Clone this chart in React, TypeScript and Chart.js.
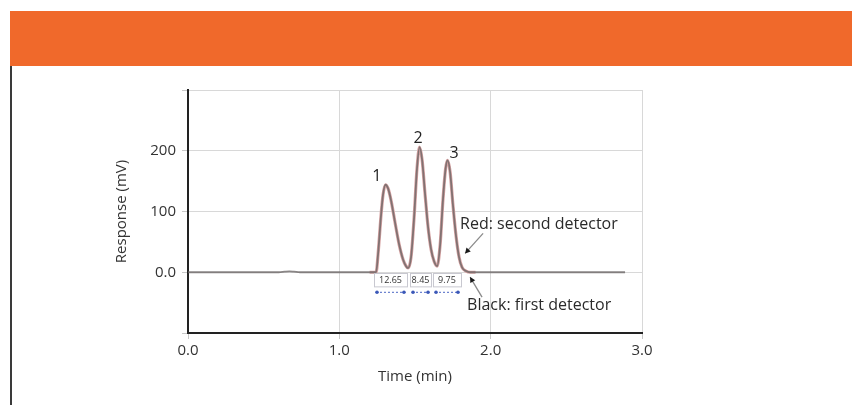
import React, { useEffect, useRef } from 'react';
import { Chart, registerables } from 'chart.js';

Chart.register(...registerables);

// Axis ticks
const xTickValues = [0, 1, 2, 3];
const xTickLabels = ['0.0', '1.0', '2.0', '3.0'];
const yTickValues = [0, 100, 200];
const yTickLabels = ['0.0', '100', '200'];

// Black: first detector (time in min, response in mV)
const firstDetectorTime = [
  0, 0.6, 0.64, 0.67, 0.7, 0.74, 1.2, 1.243, 1.256, 1.276, 1.289, 1.305, 1.322, 1.342, 1.368, 1.395,
  1.421, 1.441, 1.454, 1.474, 1.494, 1.513, 1.53, 1.547, 1.566, 1.586, 1.606, 1.626, 1.646, 1.666,
  1.685, 1.702, 1.715, 1.732, 1.751, 1.771, 1.791, 1.811, 1.837, 1.864, 2.4, 2.888,
];
const firstDetectorResponse = [
  0, 0, 1, 1.5, 1, 0, 0, 0, 30, 95, 128, 144, 138, 118, 82, 46,
  21, 10, 7, 25, 90, 170, 206, 185, 130, 75, 38, 18, 10, 45,
  120, 170, 184, 165, 110, 60, 25, 8, 2, 0, 0, 0,
];

// Red: second detector
const secondDetectorTime = [
  1.2, 1.243, 1.256, 1.276, 1.289, 1.305, 1.322, 1.342, 1.368, 1.395, 1.421, 1.441, 1.454, 1.474,
  1.494, 1.513, 1.53, 1.547, 1.566, 1.586, 1.606, 1.626, 1.646, 1.666, 1.685, 1.702, 1.715, 1.732,
  1.751, 1.771, 1.791, 1.811, 1.837, 1.864, 1.9,
];
const secondDetectorResponse = [
  0, 0, 30, 95, 128, 144, 138, 118, 82, 46, 21, 10, 7, 25,
  90, 170, 206, 185, 130, 75, 38, 18, 10, 45, 120, 170, 184, 165,
  110, 60, 25, 8, 2, 0, 0,
];

// Peak numbers
const peakLabels = ['1', '2', '3'];
const peakLabelTime = [1.247, 1.52, 1.758];
const peakLabelResponse = [158, 220, 195];

// Resolution boxes between peaks
const resolutionLabels = ['12.65', '8.45', '9.75'];
const resolutionStart = [1.229, 1.467, 1.619];
const resolutionEnd = [1.447, 1.606, 1.804];

// Detector notes
const noteTexts = ['Red: second detector', 'Black: first detector'];
const noteTextTime = [1.798, 1.844];
const noteTextResponse = [79, -55];
const noteArrowFromTime = [1.95, 1.943];
const noteArrowFromResponse = [64, -41];
const noteArrowToTime = [1.831, 1.864];
const noteArrowToResponse = [31, -8];

const FONT = '"Open Sans", "DejaVu Sans", sans-serif';

const notesPlugin = {
  id: 'chromNotes',
  afterDatasetsDraw(chart: any) {
    const { ctx } = chart;
    const x = chart.scales.x;
    const y = chart.scales.y;
    ctx.save();

    // peak numbers
    ctx.font = `16px ${FONT}`;
    ctx.fillStyle = '#222';
    ctx.textAlign = 'center';
    ctx.textBaseline = 'middle';
    peakLabels.forEach((l, i) => {
      ctx.fillText(l, x.getPixelForValue(peakLabelTime[i]), y.getPixelForValue(peakLabelResponse[i]));
    });

    // resolution boxes
    resolutionLabels.forEach((l, i) => {
      const x0 = x.getPixelForValue(resolutionStart[i]);
      const x1 = x.getPixelForValue(resolutionEnd[i]);
      const yt = y.getPixelForValue(-2);
      const yb = y.getPixelForValue(-24);
      ctx.fillStyle = '#ffffff';
      ctx.fillRect(x0, yt, x1 - x0, yb - yt);
      ctx.strokeStyle = '#c8c8d0';
      ctx.lineWidth = 1;
      ctx.strokeRect(Math.round(x0) + 0.5, Math.round(yt) + 0.5, x1 - x0, yb - yt);
      ctx.fillStyle = '#333';
      ctx.font = `9px ${FONT}`;
      ctx.fillText(l, (x0 + x1) / 2, (yt + yb) / 2 + 0.5);
      // blue dotted span
      const ym = y.getPixelForValue(-33);
      ctx.strokeStyle = '#4a66c4';
      ctx.lineWidth = 1;
      ctx.setLineDash([2, 2]);
      ctx.beginPath();
      ctx.moveTo(x0 + 2, ym);
      ctx.lineTo(x1 - 2, ym);
      ctx.stroke();
      ctx.setLineDash([]);
      ctx.fillStyle = '#3b58b8';
      [x0 + 3, x1 - 3].forEach((px) => {
        ctx.beginPath();
        ctx.arc(px, ym, 1.8, 0, Math.PI * 2);
        ctx.fill();
      });
    });

    // notes + arrows
    noteTexts.forEach((t, i) => {
      ctx.font = `16px ${FONT}`;
      ctx.fillStyle = '#2a2a2a';
      ctx.textAlign = 'left';
      ctx.textBaseline = 'middle';
      ctx.fillText(t, x.getPixelForValue(noteTextTime[i]), y.getPixelForValue(noteTextResponse[i]));
      const fx = x.getPixelForValue(noteArrowFromTime[i]);
      const fy = y.getPixelForValue(noteArrowFromResponse[i]);
      const tx = x.getPixelForValue(noteArrowToTime[i]);
      const ty = y.getPixelForValue(noteArrowToResponse[i]);
      ctx.strokeStyle = '#8a8a8a';
      ctx.lineWidth = 1.3;
      ctx.beginPath();
      ctx.moveTo(fx, fy);
      ctx.lineTo(tx, ty);
      ctx.stroke();
      const ang = Math.atan2(ty - fy, tx - fx);
      const len = 6;
      ctx.fillStyle = '#1a1a1a';
      ctx.beginPath();
      ctx.moveTo(tx, ty);
      ctx.lineTo(tx - len * Math.cos(ang - 0.5), ty - len * Math.sin(ang - 0.5));
      ctx.lineTo(tx - len * Math.cos(ang + 0.5), ty - len * Math.sin(ang + 0.5));
      ctx.closePath();
      ctx.fill();
    });

    ctx.restore();
  },
};

export default function App() {
  const canvasRef = useRef<HTMLCanvasElement | null>(null);

  useEffect(() => {
    if (!canvasRef.current) return;
    const chart = new Chart(canvasRef.current, {
      type: 'line',
      data: {
        datasets: [
          {
            label: 'Black: first detector',
            data: firstDetectorTime.map((t, i) => ({ x: t, y: firstDetectorResponse[i] })),
            borderColor: 'rgba(105,100,100,0.78)',
            borderWidth: 1.8,
            pointRadius: 0,
            cubicInterpolationMode: 'monotone',
            fill: false,
          },
          {
            label: 'Red: second detector',
            data: secondDetectorTime.map((t, i) => ({ x: t, y: secondDetectorResponse[i] })),
            borderColor: '#d6a3a3',
            borderWidth: 3.2,
            pointRadius: 0,
            cubicInterpolationMode: 'monotone',
            fill: false,
          },
        ],
      },
      options: {
        animation: false,
        responsive: false,
        layout: { padding: { left: 108, right: 210, top: 90, bottom: 0 } },
        plugins: { legend: { display: false }, tooltip: { enabled: false } },
        scales: {
          x: {
            type: 'linear',
            min: 0,
            max: 3,
            afterBuildTicks: (s: any) => {
              s.ticks = xTickValues.map((v) => ({ value: v }));
            },
            ticks: {
              callback: (v: any) => {
                const i = xTickValues.indexOf(Number(v));
                return i >= 0 ? xTickLabels[i] : '';
              },
              font: { family: FONT, size: 15 },
              color: '#333',
              padding: 3,
              maxRotation: 0,
              autoSkip: false,
            },
            grid: { color: '#d8d8d8', lineWidth: 1, tickLength: 6, tickColor: '#c8c8c8' },
            border: { color: '#222', width: 2 },
            title: {
              display: true,
              text: 'Time (min)',
              font: { family: FONT, size: 15 },
              color: '#333',
              padding: { top: 4, bottom: 19 },
            },
            afterFit: (s: any) => {
              s.height = 72;
              s.paddingLeft = 0;
              s.paddingRight = 0;
            },
          },
          y: {
            min: -100,
            max: 300,
            ticks: {
              stepSize: 100,
              callback: (v: any) => {
                const i = yTickValues.indexOf(Number(v));
                return i >= 0 ? yTickLabels[i] : '';
              },
              font: { family: FONT, size: 15 },
              color: '#333',
              padding: 6,
            },
            grid: { color: '#d8d8d8', lineWidth: 1, tickLength: 6, tickColor: '#c8c8c8' },
            border: { color: '#222', width: 2 },
            title: {
              display: true,
              text: 'Response (mV)',
              font: { family: FONT, size: 15 },
              color: '#333',
              padding: { top: 5, bottom: 0 },
            },
            afterFit: (s: any) => {
              s.width = 80;
              s.paddingTop = 0;
              s.paddingBottom = 0;
            },
          },
        },
      },
      plugins: [notesPlugin],
    } as any);
    return () => chart.destroy();
  }, []);

  return (
    <div style={{ position: 'absolute', left: 0, top: 0, width: 852, height: 405, background: '#fff', overflow: 'hidden' }}>
      <div style={{ position: 'absolute', left: 10, top: 11, width: 842, height: 55, background: '#F0692B' }} />
      <div style={{ position: 'absolute', left: 10, top: 66, width: 2, height: 339, background: '#3a3a3a' }} />
      <canvas ref={canvasRef} width={852} height={405} style={{ position: 'absolute', left: 0, top: 0, width: 852, height: 405 }} />
    </div>
  );
}
